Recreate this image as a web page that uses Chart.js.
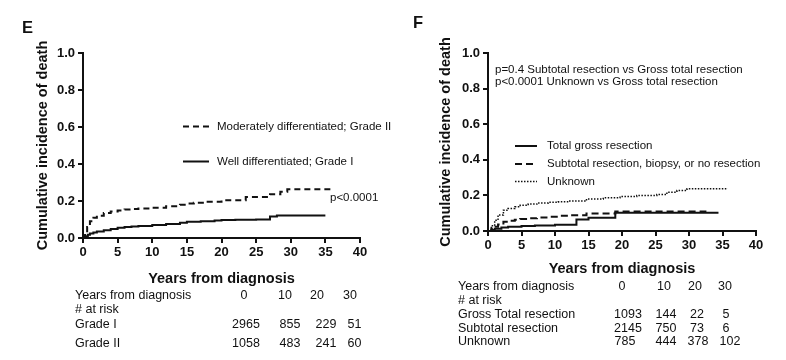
<!DOCTYPE html>
<html>
<head>
<meta charset="utf-8">
<script src="https://cdn.jsdelivr.net/npm/chart.js@4.4.1/dist/chart.umd.min.js"></script>
<style>
  html, body { margin: 0; padding: 0; background: #fff; }
  body { width: 786px; height: 360px; position: relative; overflow: hidden; font-family: "Liberation Sans", Arial, sans-serif; color: #111; }
  canvas { position: absolute; top: 0; }
  .t { position: absolute; white-space: nowrap; line-height: 1; transform: translateY(-50%); }
  .c { transform: translate(-50%, -50%); }
  svg { position: absolute; overflow: visible; }
</style>
</head>
<body>
<canvas id="chartE" width="393" height="290" style="left:0px;width:393px;height:290px"></canvas>
<canvas id="chartF" width="393" height="290" style="left:393px;width:393px;height:290px"></canvas>
<div id="overlay"></div>
<script>
// ---------------- DATA ----------------
// Panel E: cumulative incidence of death by tumour grade
const gradeIIYears  = [0, 0.3, 0.6, 1.0, 1.5, 2, 3, 4, 5, 6, 7, 8, 10, 12, 14, 15, 16, 18, 20, 23.5, 27, 28.5, 29.5, 36];
const gradeIIValues = [0, 0.03, 0.06, 0.09, 0.11, 0.12, 0.135, 0.143, 0.149, 0.154, 0.157, 0.16, 0.164, 0.172, 0.18, 0.186, 0.19, 0.196, 0.204, 0.222, 0.237, 0.25, 0.263, 0.263];
const gradeIYears   = [0, 0.3, 0.7, 1, 1.5, 2, 3, 4, 5, 6, 7, 8, 10, 12, 14, 15, 17, 19, 20, 22, 25, 27, 28, 35];
const gradeIValues  = [0, 0.01, 0.018, 0.024, 0.03, 0.035, 0.042, 0.048, 0.055, 0.059, 0.062, 0.065, 0.07, 0.076, 0.083, 0.088, 0.09, 0.094, 0.097, 0.099, 0.1, 0.116, 0.121, 0.121];
const labelsE = ["Moderately differentiated; Grade II", "Well differentiated; Grade I"];

// Panel F: cumulative incidence of death by extent of resection
const grossYears     = [0, 0.5, 1, 2, 3, 5, 7, 10, 13.2, 15, 19, 34.4];
const grossValues    = [0, 0.006, 0.012, 0.02, 0.024, 0.028, 0.031, 0.035, 0.065, 0.074, 0.102, 0.102];
const subtotalYears  = [0, 0.5, 1, 1.5, 2.3, 3, 4, 4.8, 6, 7.3, 9, 10.5, 12.2, 14.7, 19, 32.6];
const subtotalValues = [0, 0.012, 0.024, 0.036, 0.052, 0.058, 0.063, 0.067, 0.072, 0.076, 0.08, 0.085, 0.089, 0.098, 0.109, 0.109];
const unknownYears   = [0, 0.5, 1, 1.5, 2.3, 3, 4, 4.8, 6, 7.3, 9, 10.5, 12.2, 14.7, 17.2, 19.7, 22.2, 25.2, 26.7, 28.2, 29.7, 35.8];
const unknownValues  = [0, 0.03, 0.06, 0.09, 0.117, 0.126, 0.136, 0.144, 0.151, 0.157, 0.161, 0.164, 0.168, 0.18, 0.187, 0.194, 0.2, 0.205, 0.218, 0.227, 0.237, 0.237];
const labelsF = ["Total gross resection", "Subtotal resection, biopsy, or no resection", "Unknown"];

// Axis ticks
const xTicks = [0, 5, 10, 15, 20, 25, 30, 35, 40];
const yTicks = [0, 0.2, 0.4, 0.6, 0.8, 1.0];

// Number at risk tables
const riskYears = ["0", "10", "20", "30"];
const riskRowsE = ["Grade I", "Grade II"];
const riskE_gradeI  = [2965, 855, 229, 51];
const riskE_gradeII = [1058, 483, 241, 60];
const riskRowsF = ["Gross Total resection", "Subtotal resection", "Unknown"];
const riskF_gross    = [1093, 144, 22, 5];
const riskF_subtotal = [2145, 750, 73, 6];
const riskF_unknown  = [785, 444, 378, 102];

// ---------------- CHARTS ----------------
const INK = '#111';
function pts(xs, ys) { return xs.map((x, i) => ({ x: x, y: ys[i] })); }

function makeChart(id, datasets, cfg) {
  return new Chart(document.getElementById(id), {
    type: 'line',
    data: { datasets: datasets },
    options: {
      responsive: false,
      devicePixelRatio: 1,
      animation: false,
      events: [],
      layout: { padding: { top: cfg.top, right: cfg.right, left: 0, bottom: 0 } },
      plugins: { legend: { display: false }, tooltip: { enabled: false } },
      scales: {
        x: {
          type: 'linear', min: xTicks[0], max: xTicks[xTicks.length - 1],
          afterBuildTicks: s => { s.ticks = xTicks.map(v => ({ value: v })); },
          afterFit: s => { s.height = cfg.xHeight; },
          ticks: { color: INK, font: { family: 'Liberation Sans', size: 13, weight: 'bold' }, padding: 2, maxRotation: 0, autoSkip: false },
          grid: { display: true, drawOnChartArea: false, drawTicks: true, tickLength: 5, color: INK, lineWidth: 2 },
          border: { display: true, color: INK, width: 2 },
          title: { display: true, text: 'Years from diagnosis', color: INK,
                   font: { family: 'Liberation Sans', size: 14.5, weight: 'bold' }, padding: { top: 0, bottom: cfg.xTitlePad } }
        },
        y: {
          type: 'linear', min: 0, max: 1,
          afterBuildTicks: s => { s.ticks = yTicks.map(v => ({ value: v })); },
          afterFit: s => { s.width = cfg.yWidth; },
          ticks: { color: INK, font: { family: 'Liberation Sans', size: 13, weight: 'bold' }, padding: 3,
                   callback: v => Number(v).toFixed(1) },
          grid: { display: true, drawOnChartArea: false, drawTicks: true, tickLength: 5, color: INK, lineWidth: 2 },
          border: { display: true, color: INK, width: 2 },
          title: { display: true, text: 'Cumulative incidence of death', color: INK,
                   font: { family: 'Liberation Sans', size: 14.5, weight: 'bold' }, padding: { top: cfg.yTitlePad, bottom: 0 } }
        }
      }
    }
  });
}

const base = { pointRadius: 0, stepped: true, fill: false, borderColor: INK, borderCapStyle: 'butt' };

makeChart('chartE', [
  Object.assign({ label: labelsE[0], data: pts(gradeIIYears, gradeIIValues), borderWidth: 2, borderDash: [6, 4] }, base),
  Object.assign({ label: labelsE[1], data: pts(gradeIYears, gradeIValues), borderWidth: 2 }, base)
], { top: 53, right: 33, xHeight: 52, yWidth: 83, xTitlePad: 2, yTitlePad: 34 });

makeChart('chartF', [
  Object.assign({ label: labelsF[0], data: pts(grossYears, grossValues), borderWidth: 2 }, base),
  Object.assign({ label: labelsF[1], data: pts(subtotalYears, subtotalValues), borderWidth: 2, borderDash: [7, 4] }, base),
  Object.assign({ label: labelsF[2], data: pts(unknownYears, unknownValues), borderWidth: 1.5, borderDash: [1.5, 1.5] }, base)
], { top: 53, right: 30, xHeight: 59, yWidth: 95, xTitlePad: 12, yTitlePad: 44 });

// ---------------- TEXT OVERLAYS ----------------
const ov = document.getElementById('overlay');
function txt(s, x, y, size, weight, center) {
  const d = document.createElement('div');
  d.className = 't' + (center ? ' c' : '');
  d.textContent = s;
  d.style.left = x + 'px'; d.style.top = y + 'px';
  d.style.fontSize = size + 'px'; d.style.fontWeight = weight || 'normal';
  ov.appendChild(d);
}
function sample(x1, x2, y, dash, w) {
  const ns = 'http://www.w3.org/2000/svg';
  const svg = document.createElementNS(ns, 'svg');
  svg.setAttribute('width', '1'); svg.setAttribute('height', '1');
  svg.style.left = '0px'; svg.style.top = '0px';
  const l = document.createElementNS(ns, 'line');
  l.setAttribute('x1', x1); l.setAttribute('x2', x2); l.setAttribute('y1', y); l.setAttribute('y2', y);
  l.setAttribute('stroke', INK); l.setAttribute('stroke-width', w);
  if (dash) l.setAttribute('stroke-dasharray', dash);
  svg.appendChild(l); ov.appendChild(svg);
}

// Panel letters
txt('E', 22, 27, 16.5, 'bold');
txt('F', 413, 22, 16.5, 'bold');

// Panel E legend + p value
sample(183, 209, 126.5, '6 4', 2);
txt(labelsE[0], 217, 126.5, 11.5);
sample(183, 209, 161.5, null, 2);
txt(labelsE[1], 217, 161.5, 11.5);
txt('p<0.0001', 330, 198, 11.5);

// Panel F annotations + legend
txt('p=0.4 Subtotal resection vs Gross total resection', 495, 70, 11.5);
txt('p<0.0001 Unknown vs Gross total resection', 495, 82, 11.5);
sample(515, 537, 146, null, 2);
txt(labelsF[0], 547, 146, 11.5);
sample(515, 537, 164, '7 4', 2);
txt(labelsF[1], 547, 164, 11.5);
sample(515, 537, 181.5, '1.5 1.5', 1.5);
txt(labelsF[2], 547, 181.5, 11.5);

// Panel E risk table
const tsz = 12.5;
txt('Years from diagnosis', 75, 295, tsz);
const hxE = [244, 285, 317, 350];
riskYears.forEach((s, i) => txt(s, hxE[i], 295, tsz, 'normal', true));
txt('# at risk', 75, 309, tsz);
const vxE = [246, 290, 326, 354.5];
txt(riskRowsE[0], 75, 324, tsz);
riskE_gradeI.forEach((v, i) => txt(String(v), vxE[i], 324, tsz, 'normal', true));
txt(riskRowsE[1], 75, 343, tsz);
riskE_gradeII.forEach((v, i) => txt(String(v), vxE[i], 343, tsz, 'normal', true));

// Panel F risk table
txt('Years from diagnosis', 458, 286, tsz);
const hxF = [622, 664, 695, 725];
riskYears.forEach((s, i) => txt(s, hxF[i], 286, tsz, 'normal', true));
txt('# at risk', 458, 300, tsz);
const vxF = [628, 666, 697, 726];
txt(riskRowsF[0], 458, 313.5, tsz);
riskF_gross.forEach((v, i) => txt(String(v), vxF[i], 313.5, tsz, 'normal', true));
txt(riskRowsF[1], 458, 327.5, tsz);
riskF_subtotal.forEach((v, i) => txt(String(v), vxF[i], 327.5, tsz, 'normal', true));
txt(riskRowsF[2], 458, 341, tsz);
const vxFu = [625, 666, 698, 730];
riskF_unknown.forEach((v, i) => txt(String(v), vxFu[i], 341, tsz, 'normal', true));
</script>
</body>
</html>
